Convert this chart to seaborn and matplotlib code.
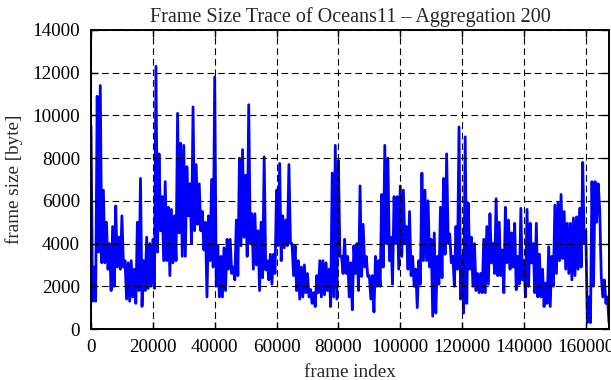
import numpy as np
import pandas as pd
import seaborn as sns
import matplotlib
matplotlib.use("Agg")
import matplotlib.pyplot as plt
from matplotlib.ticker import FixedLocator, StrMethodFormatter

# ---- data: frame sizes (bytes), one value every 500 frames ----
step = 500
seg_0 = [9500, 1300, 2900, 1300, 10900, 3600, 11400, 3100, 6500, 3100,
         5000, 2800, 4000, 1800, 4800, 2000, 5760, 2900, 4300, 2800,
         5300, 2900, 3200, 1400, 3100, 1300, 3200, 1500, 2800, 1200,
         5000, 1800, 7050, 1060, 3200, 1800, 4300, 1900, 4000, 2000]
seg_1 = [4200, 1900, 12300, 3600, 8200, 4600, 6200, 3200, 6900, 3200,
         5700, 2500, 5600, 3100, 5300, 3200, 10100, 4500, 8700, 3400,
         8600, 3400, 7600, 5300, 6800, 4000, 10400, 4600, 7700, 4900,
         6800, 4600, 5500, 3700, 5000, 1500, 5300, 3200, 7000, 2900]
seg_2 = [11800, 2000, 3900, 1500, 3400, 1500, 3800, 1800, 4200, 2800,
         4200, 2600, 2900, 2300, 5100, 2500, 8000, 3900, 8400, 4300,
         7200, 3400, 10500, 4000, 5400, 2800, 5400, 3000, 4600, 1800,
         5000, 2400, 8060, 2770, 3200, 2300, 3500, 2100, 3500, 2600]
seg_3 = [6500, 3900, 7750, 3200, 5300, 3800, 5100, 3900, 7700, 4000,
         4000, 2500, 3900, 1800, 3200, 1400, 2900, 1500, 3000, 1700,
         2600, 1500, 1850, 1200, 1700, 1050, 2500, 1700, 3200, 1500,
         3200, 1600, 3100, 1800, 2800, 1050, 7300, 1500, 8600, 1400]
seg_4 = [7900, 3400, 3400, 2600, 4200, 2600, 3400, 1500, 3100, 900,
         3900, 2600, 4000, 1800, 6700, 2460, 4900, 2900, 3400, 2460,
         2500, 1400, 2500, 800, 3400, 2000, 3200, 2000, 6300, 2900,
         8600, 4000, 8000, 3200, 4300, 2100, 6200, 4000, 6200, 2800]
seg_5 = [6700, 3400, 6500, 4000, 4800, 2800, 5500, 2500, 3400, 2000,
         2800, 1000, 3200, 2100, 7300, 3200, 6500, 3200, 6000, 2900,
         4200, 600, 4500, 750, 3400, 2100, 5700, 2400, 7050, 3500,
         8200, 4000, 4450, 3100, 3400, 2000, 4800, 2800, 9460, 1400]
seg_6 = [3400, 750, 9000, 1200, 5900, 2800, 4300, 2000, 4000, 1800,
         2600, 1700, 2600, 1700, 4200, 1700, 4800, 2100, 5400, 3100,
         4000, 2600, 6100, 2500, 5000, 2500, 3700, 1700, 5700, 3100,
         5100, 2800, 4500, 2900, 4950, 1840, 3400, 2100, 5650, 2300]
seg_7 = [3200, 1500, 5600, 2000, 4950, 3100, 4000, 1700, 4950, 1500,
         3500, 1500, 2800, 1050, 2150, 1200, 3850, 1050, 3400, 2000,
         5800, 2600, 5900, 3200, 6300, 3300, 5500, 2800, 4950, 2600,
         4950, 2300, 5200, 2500, 5250, 2800, 5650, 2900, 7800, 4000,
         4600, 300, 1500, 300, 6900, 2000, 6900, 5000, 6800, 5600,
         2450, 1500, 2300, 1200, 1500, 300]

x_ticks = [0, 20000, 40000, 60000, 80000, 100000, 120000, 140000, 160000]
y_ticks = [0, 2000, 4000, 6000, 8000, 10000, 12000, 14000]

sizes = seg_0 + seg_1 + seg_2 + seg_3 + seg_4 + seg_5 + seg_6 + seg_7
df = pd.DataFrame({"frame": np.arange(len(sizes)) * step, "size": sizes})

sns.set_theme(style="ticks")
plt.rcParams["font.family"] = ["Liberation Serif", "DejaVu Serif"]

FS = 13.8
fig = plt.figure(figsize=(6.11, 3.80), dpi=100)
ax = fig.add_axes([91 / 611, 51 / 380, 518 / 611, 299 / 380])

sns.lineplot(data=df, x="frame", y="size", ax=ax, color="#0000ff",
             linewidth=2.0, estimator=None, sort=False)

ax.set_xlim(0, 167500)
ax.set_ylim(0, 14000)
ax.xaxis.set_major_locator(FixedLocator(x_ticks))
ax.yaxis.set_major_locator(FixedLocator(y_ticks))
ax.xaxis.set_major_formatter(StrMethodFormatter("{x:.0f}"))
ax.yaxis.set_major_formatter(StrMethodFormatter("{x:.0f}"))

ax.grid(True, color="black", linestyle=(0, (6, 3.5)), linewidth=0.8)
ax.set_axisbelow(False)
for sp in ax.spines.values():
    sp.set_visible(True)
    sp.set_linewidth(1.4)
    sp.set_color("black")
ax.tick_params(direction="in", length=5, width=1.0, top=True, right=True,
               labelsize=FS, colors="black")
ax.tick_params(axis="y", pad=8)
ax.tick_params(axis="x", pad=7)

ax.set_xlabel("frame index", fontsize=FS, labelpad=6)
ax.set_ylabel("frame size [byte]", fontsize=FS, labelpad=7)
ax.set_title("Frame Size Trace of Oceans11 \u2013 Aggregation 200", fontsize=14.5, pad=6)
if ax.get_legend() is not None:
    ax.get_legend().remove()

fig.savefig("out.png", dpi=100)
